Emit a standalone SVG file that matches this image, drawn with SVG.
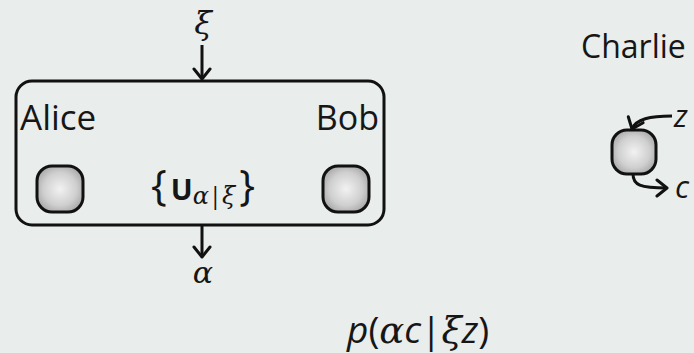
<svg xmlns="http://www.w3.org/2000/svg" width="694" height="353" viewBox="0 0 694 353">
<defs>
<radialGradient id="ball" cx="50%" cy="50%" r="60%">
<stop offset="0" stop-color="#f2f2f2"/>
<stop offset="0.6" stop-color="#cfcfcf"/>
<stop offset="1" stop-color="#a0a0a0"/>
</radialGradient>
<marker id="ah" viewBox="-12 -10 14 20" markerWidth="14" markerHeight="20" refX="0" refY="0" orient="auto" markerUnits="userSpaceOnUse">
<path d="M -10 -8 L 0 0 L -10 8" fill="none" stroke="#111" stroke-width="3" stroke-linecap="round" stroke-linejoin="round"/>
</marker>
<style>
.t{font-family:"Open Sans","DejaVu Sans",sans-serif;fill:#161616}
.m{font-family:"DejaVu Serif","Liberation Serif",serif;font-style:italic;fill:#161616}
.mi{font-family:"Open Sans","DejaVu Sans",sans-serif;font-style:italic;fill:#161616}
.node{fill:url(#ball);stroke:#111;stroke-width:3}
.box{fill:none;stroke:#111;stroke-width:3}
.con{fill:none;stroke:#111;stroke-width:3}
</style>
</defs>
<rect width="694" height="353" fill="#e9edeb"/>
<g id="system">
<rect class="box" x="16" y="81" width="368" height="144" rx="16"/>
<text class="t" x="20" y="130" font-size="35">Alice</text>
<text class="t" x="379" y="130" font-size="34" text-anchor="end">Bob</text>
<text x="203" y="200" text-anchor="middle"><tspan class="t" font-size="42">{</tspan><tspan class="t" font-size="29" font-weight="bold" dx="4">U</tspan><tspan class="m" font-size="24" dy="4">α</tspan><tspan class="t" font-size="24">|</tspan><tspan class="m" font-size="24">ξ</tspan><tspan class="t" font-size="42" dy="-4" dx="4">}</tspan></text>
</g>
<g id="alice-node"><rect class="node" x="37" y="166" width="46" height="46" rx="15"/></g>
<g id="bob-node"><rect class="node" x="323" y="166" width="46" height="46" rx="15"/></g>
<g id="charlie">
<text class="t" x="581" y="58" font-size="32">Charlie</text>
<rect class="node" x="612" y="130" width="44" height="44" rx="15"/>
</g>
<g id="connectors">
<line class="con" x1="202" y1="45" x2="202" y2="79" marker-end="url(#ah)"/>
<line class="con" x1="202" y1="225" x2="202" y2="257" marker-end="url(#ah)"/>
<path class="con" d="M 672 116 C 650 116 636 119 632 129" marker-end="url(#ah)"/>
<path class="con" d="M 633 174 C 633 185 640 188 667 188" marker-end="url(#ah)"/>
</g>
<g id="labels">
<text class="m" x="203" y="34" font-size="32" text-anchor="middle">ξ</text>
<text class="m" x="203" y="283" font-size="30" text-anchor="middle">α</text>
<text class="mi" x="674" y="127" font-size="31">z</text>
<text class="mi" x="675" y="198" font-size="31">c</text>
<text x="347" y="343" font-size="37"><tspan class="mi">p</tspan><tspan class="t">(</tspan><tspan class="m">α</tspan><tspan class="mi">c</tspan><tspan class="t">|</tspan><tspan class="m">ξ</tspan><tspan class="mi">z</tspan><tspan class="t">)</tspan></text>
</g>
</svg>
